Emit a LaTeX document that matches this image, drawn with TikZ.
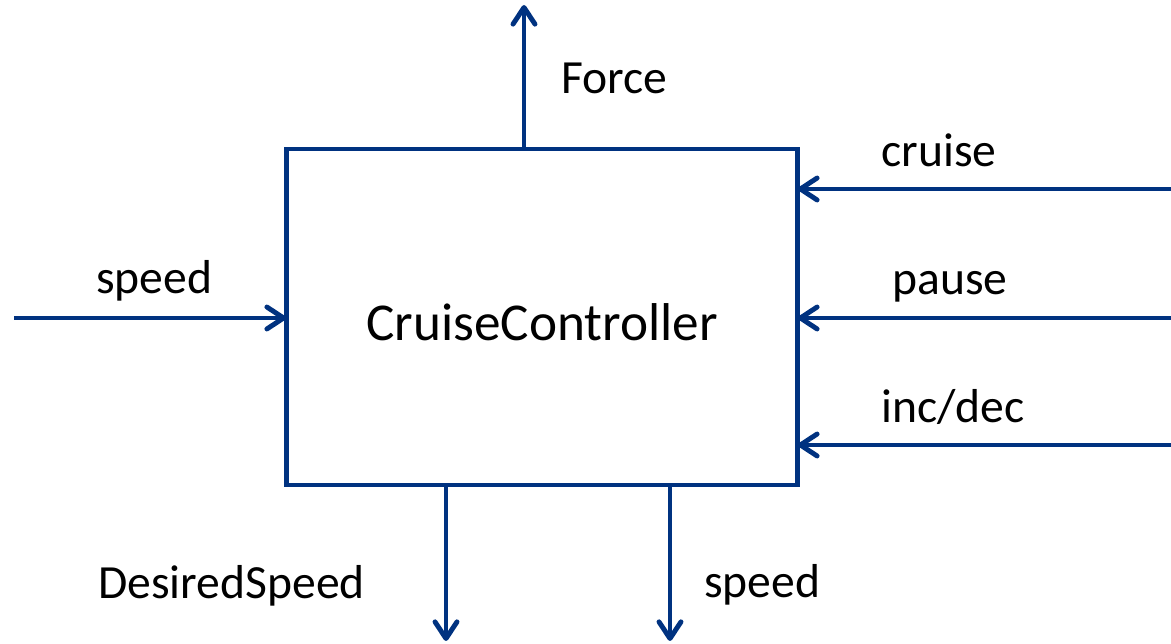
\documentclass[tikz,border=0pt]{standalone}
\usepackage{fontspec}
\setmainfont{Carlito}
\usetikzlibrary{arrows.meta}
\definecolor{navy}{RGB}{0,50,128}
\begin{document}
\begin{tikzpicture}[x=0.02cm,y=-0.02cm,
  wire/.style={draw=navy,line width=2.8pt,-{Straight Barb[length=9.5pt,width=12.5pt,round]}},
  lbl/.style={anchor=base west,inner sep=0pt,font=\fontsize{27.1}{30}\selectfont},
  blk/.style={draw=navy,line width=2.8pt,minimum width=10.24cm,minimum height=6.72cm,inner sep=0pt,outer sep=0pt}]
\useasboundingbox (0,0) rectangle (1171,644);
\node[blk] (box) at (542,317) {};
\node[anchor=base west,inner sep=0pt,font=\fontsize{30.3}{34}\selectfont] (title) at (366,341) {CruiseController};
% connector end points
\coordinate (fout) at (524,5);
\coordinate (sin) at (14,318);
\coordinate (cin) at (1171,189);
\coordinate (pin) at (1171,318);
\coordinate (iin) at (1171,445);
\coordinate (dout) at (446,641);
\coordinate (sout) at (670,641);
% connectors
\draw[wire] (fout |- box.north) -- (fout);
\draw[wire] (sin) -- (sin -| box.west);
\draw[wire] (cin) -- (cin -| box.east);
\draw[wire] (pin) -- (pin -| box.east);
\draw[wire] (iin) -- (iin -| box.east);
\draw[wire] (dout |- box.south) -- (dout);
\draw[wire] (sout |- box.south) -- (sout);
% labels
\node[lbl] (lforce) at (561,94) {Force};
\node[lbl] (lspeedin) at (96,294) {speed};
\node[lbl] (lcruise) at (881,167) {cruise};
\node[lbl] (lpause) at (892,295) {pause};
\node[lbl] (linc) at (881,423) {inc/dec};
\node[lbl] (ldes) at (98,599) {DesiredSpeed};
\node[lbl] (lspeedout) at (704,598) {speed};
\end{tikzpicture}
\end{document}
